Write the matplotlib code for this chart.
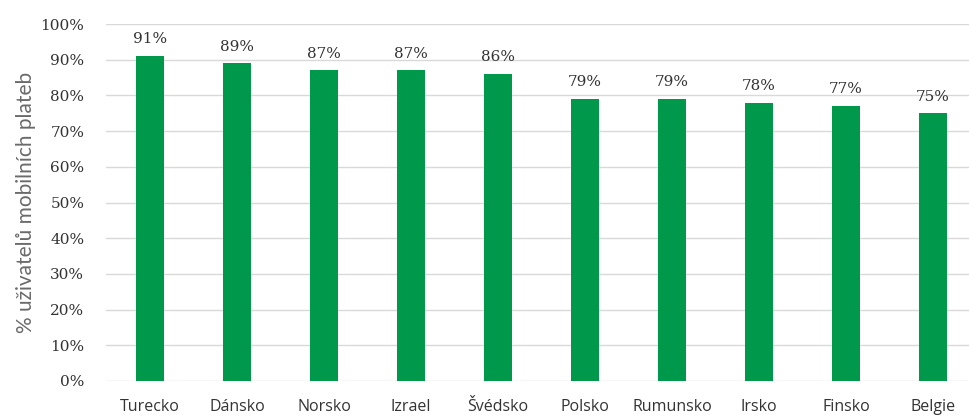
import matplotlib.pyplot as plt
from matplotlib.ticker import PercentFormatter

countries = ['Turecko', 'Dánsko', 'Norsko', 'Izrael', 'Švédsko',
             'Polsko', 'Rumunsko', 'Irsko', 'Finsko', 'Belgie']
share = [91, 89, 87, 87, 86, 79, 79, 78, 77, 75]  # % of users

GREEN = '#00984A'
TEXT = '#333333'

fig = plt.figure(figsize=(9.7, 4.17), dpi=100)
# axes runs a little past the right edge, the last gap is cut off
ax = fig.add_axes([106.5 / 970, 36 / 417, 870 / 970, 357 / 417])

x = range(len(countries))
ax.bar(x, share, width=0.32, color=GREEN, zorder=3)

for i, v in zip(x, share):
    ax.annotate(f'{v}%', (i, v), xytext=(0, 7), textcoords='offset points',
                ha='center', va='bottom', fontsize=11, color=TEXT,
                family='DejaVu Serif')

ax.set_xlim(-0.5, len(countries) - 0.5)
ax.set_ylim(0, 100)
ax.set_yticks(range(0, 101, 10))
ax.yaxis.set_major_formatter(PercentFormatter(decimals=0))
ax.set_xticks(list(x))
ax.set_xticklabels(countries, family='Open Sans', fontsize=11.5, color=TEXT)
for lab in ax.get_yticklabels():
    lab.set_family('DejaVu Serif')
    lab.set_fontsize(11)
    lab.set_color(TEXT)

ax.grid(axis='y', color='#d9d9d9', linewidth=1, zorder=0)
for side in ax.spines.values():
    side.set_visible(False)
ax.tick_params(length=0)
ax.tick_params(axis='y', pad=16)
ax.tick_params(axis='x', pad=13)

ax.set_ylabel('% uživatelů mobilních plateb', family='Lato',
              fontsize=15, color='#6a6a6a', labelpad=3)

fig.savefig('out.png', dpi=100)
